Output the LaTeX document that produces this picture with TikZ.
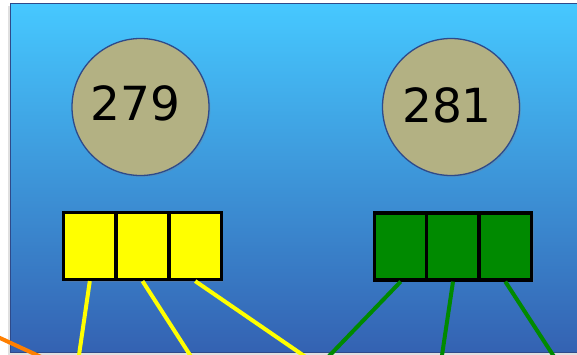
\documentclass[tikz,border=0pt]{standalone}
\usepackage{fontspec}
\setmainfont{DejaVu Sans}
\usetikzlibrary{shadows}
\definecolor{skytop}{HTML}{46C8FF}
\definecolor{skybot}{HTML}{3462B2}
\definecolor{khaki}{HTML}{B3B183}
\definecolor{rim}{HTML}{2E4A8A}
\definecolor{leafgreen}{HTML}{008A00}
\definecolor{flame}{HTML}{FF7F00}
\definecolor{lemon}{HTML}{FFFF00}
\begin{document}
\begin{tikzpicture}[x=1pt,y=-1pt,
  num/.style={circle,draw=rim,line width=1.3pt,fill=khaki,minimum size=137pt,
    inner sep=0pt,font=\fontsize{47}{52}\selectfont,
    drop shadow={opacity=.25,shadow xshift=1.5pt,shadow yshift=-1.5pt}},
  cell/.style={draw=black,line width=3.2pt,minimum width=52.5pt,
    minimum height=67pt,inner sep=0pt,
    drop shadow={opacity=.3,shadow xshift=2pt,shadow yshift=-2pt}},
  ylink/.style={draw=lemon,line width=4pt},
  glink/.style={draw=leafgreen,line width=4pt},
  olink/.style={draw=flame,line width=4pt}]
\useasboundingbox (0,0) rectangle (577,355);
\fill[white] (0,0) rectangle (577,355);
\clip (0,0) rectangle (577,355);

% panel
\fill[black,opacity=.12] (8,6) rectangle (592,355);
\shade[top color=skytop,bottom color=skybot,draw=rim,line width=1pt]
  (10,4) rectangle (592,352);

% numbered discs (digits sit a little left of and above centre)
\node[num] (n279) at (140.5,107) {\raisebox{8pt}{279}\kern10pt};
\node[num] (n281) at (451,107) {\raisebox{4pt}{281}\kern8pt};

% yellow cells
\node[cell,fill=lemon] (y1) at (89.8,246) {};
\node[cell,fill=lemon] (y2) at (142.5,246) {};
\node[cell,fill=lemon] (y3) at (195.2,246) {};

% green cells
\node[cell,fill=leafgreen] (g1) at (400.7,246.5) {};
\node[cell,fill=leafgreen] (g2) at (453,246.5) {};
\node[cell,fill=leafgreen] (g3) at (505.3,246.5) {};

% free ends below the panel
\coordinate (ye1) at (78,362);
\coordinate (ye2) at (194.5,362);
\coordinate (ye3) at (313,362);
\coordinate (ge1) at (323.3,362);
\coordinate (ge2) at (441,362);
\coordinate (ge3) at (557.5,362);
\coordinate (oa) at (-10,333.4);
\coordinate (ob) at (52,362);

\draw[ylink] (y1.south) -- (ye1);
\draw[ylink] (y2.south) -- (ye2);
\draw[ylink] (y3.south) -- (ye3);
\draw[glink] (g1.south) -- (ge1);
\draw[glink] (g2.south) -- (ge2);
\draw[glink] (g3.south) -- (ge3);
\draw[olink] (oa) -- (ob);
\end{tikzpicture}
\end{document}
